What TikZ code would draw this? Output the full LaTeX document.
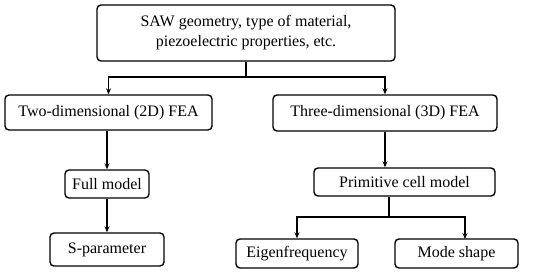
\documentclass[tikz,border=0pt]{standalone}
\usepackage{fontspec}
\setmainfont{Liberation Serif}
\usetikzlibrary{positioning,arrows.meta}

\tikzset{
  box/.style={draw, line width=1.4pt, rounded corners=4pt, inner sep=0pt,
    align=center, font=\fontsize{16}{20}\selectfont},
  arr/.style={line width=1.2pt, -{Stealth[length=6pt,width=5pt]}}
}

\begin{document}
\begin{tikzpicture}[x=1pt,y=-1pt]
		\useasboundingbox (0,0) rectangle (550,273);
		% 顶部
		\node[box, minimum width=298pt, minimum height=56pt] (geo) at (246,33)
		  {SAW geometry, type of material,\\piezoelectric properties, etc.};
		% 第二层
		\node[box, minimum width=207pt, minimum height=35pt] (twod) at (108.5,112.5) {Two-dimensional (2D) FEA};
		\node[box, minimum width=224pt, minimum height=36pt] (threed) at (385,113) {Three-dimensional (3D) FEA};
		% 第三层
		\node[box, minimum width=84pt, minimum height=28pt] (full) at (107,184) {Full model};
		\node[box, minimum width=181pt, minimum height=28pt] (prim) at (404.5,182) {Primitive cell model};
		% 底层
		\node[box, minimum width=114pt, minimum height=33pt] (spar) at (107,249.5) {S-parameter};
		\node[box, minimum width=122pt, minimum height=29pt] (eig) at (297,253.5) {Eigenfrequency};
		\node[box, minimum width=123pt, minimum height=29pt] (mode) at (456.5,253.5) {Mode shape};
		% 连线
		\coordinate (split1) at (246,77);
		\draw[line width=1.2pt] (geo.south) -- (split1);
		\draw[arr] (split1) -| (twod.north);
		\draw[arr] (split1) -| (threed.north);
		\draw[arr] (twod.south -| full.north) -- (full.north);
		\draw[arr] (full.south) -- (spar.north);
		\draw[arr] (threed.south) -- (threed.south |- prim.north);
		\coordinate (split2) at (389,217);
		\coordinate (modetop) at (465,239);
		\draw[line width=1.2pt] (split2 |- prim.south) -- (split2);
		\draw[arr] (split2) -| (eig.north);
		\draw[arr] (split2) -| (modetop);
		\end{tikzpicture}
\end{document}
